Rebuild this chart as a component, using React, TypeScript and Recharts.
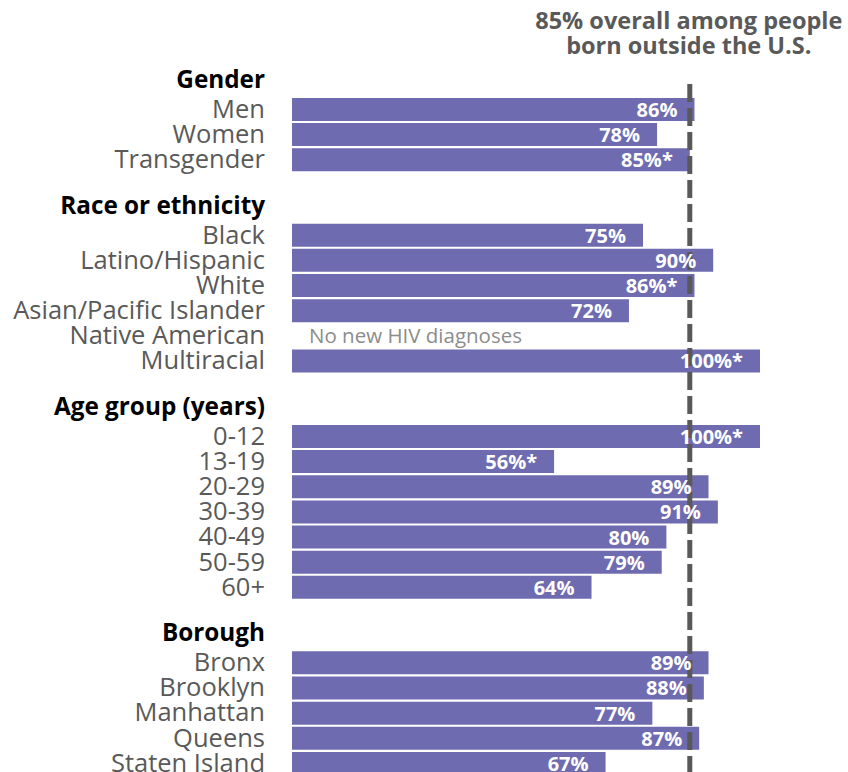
import React from 'react';
import { BarChart, Bar, XAxis, YAxis, ReferenceLine, LabelList, Label } from 'recharts';

const categories = [
  'Gender', 'Men', 'Women', 'Transgender', '',
  'Race or ethnicity', 'Black', 'Latino/Hispanic', 'White', 'Asian/Pacific Islander', 'Native American', 'Multiracial', '',
  'Age group (years)', '0-12', '13-19', '20-29', '30-39', '40-49', '50-59', '60+', '',
  'Borough', 'Bronx', 'Brooklyn', 'Manhattan', 'Queens', 'Staten Island', '',
];
const values: (number | null)[] = [
  null, 86, 78, 85, null,
  null, 75, 90, 86, 72, null, 100, null,
  null, 100, 56, 89, 91, 80, 79, 64, null,
  null, 89, 88, 77, 87, 67, null,
];
const starred = ['Transgender', 'White', 'Multiracial', '0-12', '13-19'];
const headers = ['Gender', 'Race or ethnicity', 'Age group (years)', 'Borough'];
const overall = 85;
const noDataCategory = 'Native American';
const noDataText = 'No new HIV diagnoses';
const titleLines = ['85% overall among people', 'born outside the U.S.'];

const data = categories.map((c, i) => ({
  key: c || `blank-${i}`,
  label: c,
  value: values[i],
  text: values[i] != null ? `${values[i]}%${starred.includes(c) ? '*' : ''}` : null,
}));

const FONT = '"Open Sans", sans-serif';
const BAR = '#6f6bb0';
const GREY = '#595959';

const CategoryTick = (props: any) => {
  const { x, y, payload } = props;
  const v: string = payload.value;
  if (v.startsWith('blank-')) return null;
  const isHeader = headers.includes(v);
  return (
    <text
      x={x}
      y={y}
      dy={isHeader ? 4 : 8.5}
      textAnchor="end"
      fontFamily={FONT}
      fontSize={isHeader ? 24.3 : 25.5}
      fontWeight={isHeader ? 700 : 400}
      fill={isHeader ? '#000000' : GREY}
    >
      {v}
    </text>
  );
};

const ValueLabel = (props: any) => {
  const { x, y, width, height, value } = props;
  if (value == null) return null;
  return (
    <text
      x={x + width - 17}
      y={y + height / 2}
      dy={7.5}
      textAnchor="end"
      fontFamily={FONT}
      fontSize={20}
      fontWeight={700}
      fill="#ffffff"
    >
      {value}
    </text>
  );
};

const TitleLabel = (props: any) => {
  const { viewBox } = props;
  if (!viewBox) return null;
  const cx = viewBox.x - 1;
  return (
    <text textAnchor="middle" fontFamily={FONT} fontSize={23.5} fontWeight={700} fill={GREY}>
      <tspan x={cx} y={viewBox.y - 55}>{titleLines[0]}</tspan>
      <tspan x={cx} y={viewBox.y - 30}>{titleLines[1]}</tspan>
    </text>
  );
};

export default function App() {
  const first = data[0].key;
  const last = data[data.length - 1].key;
  return (
    <div style={{ position: 'absolute', left: 0, top: 0, width: 848, height: 772, overflow: 'hidden', background: '#fff' }}>
      <BarChart
        width={848}
        height={801}
        data={data}
        layout="vertical"
        margin={{ top: 71.5, right: 88, bottom: 0, left: 0 }}
        barCategoryGap="5%"
      >
        <XAxis type="number" domain={[0, 100]} hide />
        <YAxis
          type="category"
          dataKey="key"
          width={292}
          interval={0}
          axisLine={false}
          tickLine={false}
          tickSize={0}
          tickMargin={27}
          tick={<CategoryTick />}
        />
        <Bar dataKey="value" fill={BAR} isAnimationActive={false}>
          <LabelList dataKey="text" content={<ValueLabel />} />
        </Bar>
        <ReferenceLine
          segment={[{ x: 0, y: noDataCategory }, { x: 100, y: noDataCategory }]}
          stroke="none"
          label={{ value: noDataText, position: 'insideLeft', offset: 17, fill: '#8c8c8c', fontSize: 20.5, fontFamily: FONT }}
        />
        <ReferenceLine
          segment={[{ x: overall, y: first }, { x: overall, y: last }]}
          stroke={GREY}
          strokeWidth={5}
          strokeDasharray="18 6"
        >
          <Label content={<TitleLabel />} />
        </ReferenceLine>
      </BarChart>
    </div>
  );
}
